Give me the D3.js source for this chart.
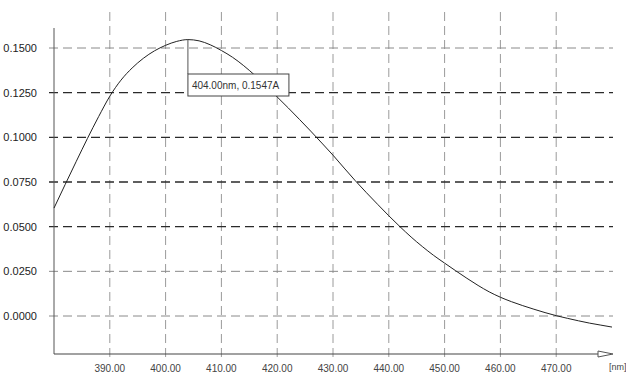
<!DOCTYPE html>
<html>
<head>
<meta charset="utf-8">
<script src="https://cdn.jsdelivr.net/npm/d3@7"></script>
<style>
  html, body { margin: 0; padding: 0; background: #fff; }
  svg { display: block; }
  text { font-family: "Liberation Sans", Arial, sans-serif; }
</style>
</head>
<body>
<svg id="chart" width="626" height="374"></svg>
<script>
const wavelengths = [380,382,384,386,388,390,392,394,396,398,400,402,404,406,408,410,412,414,416,418,420,422,424,426,428,430,432,434,436,438,440,442,444,446,448,450,452,454,456,458,460,462,464,466,468,470,472,474,476,478,480];
const absorbance = [0.0604,0.0736,0.0866,0.0994,0.1116,0.1230,0.1320,0.1388,0.1442,0.1484,0.1515,0.1537,0.1547,0.1540,0.1518,0.1486,0.1448,0.1401,0.1347,0.1288,0.1226,0.1164,0.1100,0.1035,0.0968,0.0900,0.0828,0.0757,0.0690,0.0625,0.0561,0.0500,0.0442,0.0389,0.0340,0.0296,0.0253,0.0211,0.0171,0.0135,0.0105,0.0080,0.0058,0.0038,0.0019,0.0002,-0.0013,-0.0027,-0.0040,-0.0051,-0.0062];
const xTickValues = [390,400,410,420,430,440,450,460,470];
const yTickValues = [0,0.025,0.05,0.075,0.1,0.125,0.15];
const darkGridValues = [0.05,0.075,0.1,0.125];
const peakLabel = "404.00nm, 0.1547A";
const peakX = 404, peakY = 0.1547;
const xUnit = "[nm]";

const svg = d3.select("#chart");
const x = d3.scaleLinear().domain([380, 480]).range([54, 612]);
const y = d3.scaleLinear().domain([0, 0.15]).range([316, 48]);

// vertical grid
svg.append("g").selectAll("line").data(xTickValues).join("line")
  .attr("x1", d => x(d)).attr("x2", d => x(d))
  .attr("y1", 12).attr("y2", 362)
  .attr("stroke", "#9a9a9a").attr("stroke-width", 1)
  .attr("stroke-dasharray", "9,5");

// horizontal grid
svg.append("g").selectAll("line").data(yTickValues).join("line")
  .attr("x1", 49).attr("x2", 613)
  .attr("y1", d => y(d)).attr("y2", d => y(d))
  .attr("stroke", d => darkGridValues.includes(d) ? "#2a2a2a" : "#8a8a8a")
  .attr("stroke-width", d => darkGridValues.includes(d) ? 1.4 : 1)
  .attr("stroke-dasharray", "9,5");

// axes lines
svg.append("line").attr("x1", 54).attr("x2", 54).attr("y1", 28).attr("y2", 354)
  .attr("stroke", "#555").attr("stroke-width", 1);
svg.append("line").attr("x1", 54).attr("x2", 600).attr("y1", 354).attr("y2", 354)
  .attr("stroke", "#444").attr("stroke-width", 1.2);
// open arrow head
svg.append("path")
  .attr("d", "M598,351 L613,354 L598,357 Z")
  .attr("fill", "#fff").attr("stroke", "#555").attr("stroke-width", 1);

// y labels
svg.append("g").selectAll("text").data(yTickValues).join("text")
  .attr("x", 37).attr("y", d => y(d) + 4)
  .attr("text-anchor", "end").attr("font-size", 11).attr("fill", "#222")
  .text(d => d3.format(".4f")(d));

// x labels
svg.append("g").selectAll("text").data(xTickValues).join("text")
  .attr("x", d => x(d)).attr("y", 372)
  .attr("text-anchor", "middle").attr("font-size", 10).attr("fill", "#444")
  .text(d => d3.format(".2f")(d));
svg.append("text").attr("x", 609).attr("y", 370).attr("font-size", 9).attr("fill", "#444").text(xUnit);

// curve
const line = d3.line().x((d, i) => x(wavelengths[i])).y(d => y(d)).curve(d3.curveMonotoneX);
svg.append("path").datum(absorbance).attr("d", line)
  .attr("fill", "none").attr("stroke", "#222").attr("stroke-width", 1);

// peak annotation
const bx = x(peakX), by = 74;
svg.append("line").attr("x1", bx).attr("x2", bx).attr("y1", y(peakY)).attr("y2", by)
  .attr("stroke", "#555").attr("stroke-width", 1);
svg.append("rect").attr("x", bx).attr("y", by).attr("width", 101).attr("height", 22)
  .attr("fill", "#fff").attr("stroke", "#444").attr("stroke-width", 1);
svg.append("text").attr("x", bx + 4).attr("y", by + 15).attr("font-size", 10).attr("fill", "#333")
  .text(peakLabel);
</script>
</body>
</html>
